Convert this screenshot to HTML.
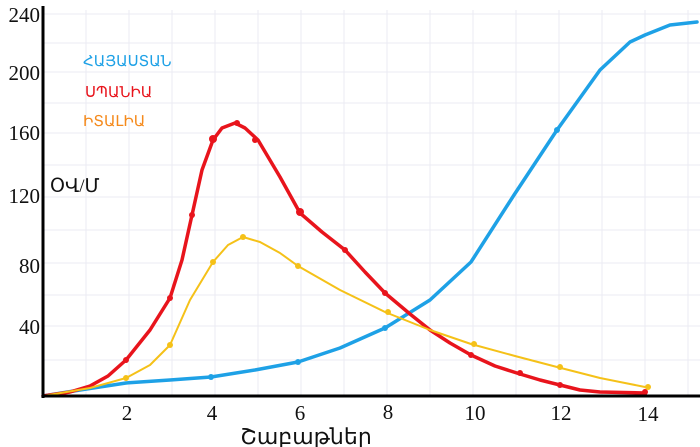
<!DOCTYPE html>
<html><head><meta charset="utf-8"><style>
html,body{margin:0;padding:0;background:#fff;}
svg{display:block;}
text{font-family:"Liberation Serif",serif;}
</style></head><body>
<svg width="700" height="447" viewBox="0 0 700 447" xmlns="http://www.w3.org/2000/svg">
<g stroke="#ebebf3" stroke-width="1">
<line x1="86" y1="10" x2="86" y2="396"/><line x1="129" y1="10" x2="129" y2="396"/><line x1="172" y1="10" x2="172" y2="396"/><line x1="215" y1="10" x2="215" y2="396"/><line x1="258" y1="10" x2="258" y2="396"/><line x1="301" y1="10" x2="301" y2="396"/><line x1="344" y1="10" x2="344" y2="396"/><line x1="387" y1="10" x2="387" y2="396"/><line x1="430" y1="10" x2="430" y2="396"/><line x1="473" y1="10" x2="473" y2="396"/><line x1="516" y1="10" x2="516" y2="396"/><line x1="559" y1="10" x2="559" y2="396"/><line x1="602" y1="10" x2="602" y2="396"/><line x1="645" y1="10" x2="645" y2="396"/><line x1="688" y1="10" x2="688" y2="396"/>
<line x1="43" y1="14" x2="700" y2="14"/><line x1="43" y1="43" x2="700" y2="43"/><line x1="43" y1="72" x2="700" y2="72"/><line x1="43" y1="103" x2="700" y2="103"/><line x1="43" y1="133" x2="700" y2="133"/><line x1="43" y1="165" x2="700" y2="165"/><line x1="43" y1="197" x2="700" y2="197"/><line x1="43" y1="230" x2="700" y2="230"/><line x1="43" y1="263" x2="700" y2="263"/><line x1="43" y1="295" x2="700" y2="295"/><line x1="43" y1="326" x2="700" y2="326"/><line x1="43" y1="360" x2="700" y2="360"/>
</g>
<g fill="none" stroke-linejoin="round" stroke-linecap="round">
<polyline points="43,396 80,390 126,383 170,380 211,377 255,370 298,362 340,348 385,328 430,300 471,262 514,195 557,130 600,70 630,42 645,35 670,25 697,22" stroke="#1ea1e6" stroke-width="3.5"/>
<polyline points="43,396 70,392 90,386 108,376 126,360 150,330 170,298 182,260 192,215 202,170 213,140 222,128 235,123 245,128 258,140 280,177 300,213 322,232 345,250 365,272 385,293 410,314 430,330 450,343 471,355 495,366 520,374 540,380 560,385 580,390 600,392 645,393" stroke="#e8141c" stroke-width="3.5"/>
<polyline points="43,396 90,388 126,378 150,365 170,345 190,300 213,262 228,245 243,237 260,242 280,253 298,266 340,290 385,312 430,330 471,344 515,356 557,367 600,378 645,387" stroke="#f5c118" stroke-width="2"/>
</g>
<g fill="#1ea1e6"><circle cx="211" cy="377" r="3"/><circle cx="298" cy="362" r="3"/><circle cx="385" cy="328" r="3"/><circle cx="557" cy="130" r="3"/></g>
<g fill="#e8141c"><circle cx="126" cy="360" r="3"/><circle cx="170" cy="298" r="3"/><circle cx="192" cy="215" r="3"/><circle cx="213" cy="139" r="4"/><circle cx="237" cy="123" r="3"/><circle cx="255" cy="140" r="3"/><circle cx="300" cy="212" r="4"/><circle cx="345" cy="250" r="3"/><circle cx="385" cy="293" r="3"/><circle cx="471" cy="355" r="3"/><circle cx="520" cy="373" r="3"/><circle cx="560" cy="385" r="3"/><circle cx="645" cy="392" r="3"/></g>
<g fill="#f5c118"><circle cx="126" cy="378" r="3"/><circle cx="170" cy="345" r="3"/><circle cx="213" cy="262" r="3"/><circle cx="243" cy="237" r="3"/><circle cx="298" cy="266" r="3"/><circle cx="388" cy="312" r="3"/><circle cx="474" cy="344" r="3"/><circle cx="560" cy="367" r="3"/><circle cx="648" cy="387" r="3"/></g>
<line x1="43" y1="6" x2="43" y2="398" stroke="#000" stroke-width="3"/>
<line x1="42" y1="396" x2="700" y2="396" stroke="#000" stroke-width="3"/>
<g font-size="21" fill="#111" text-anchor="end">
<text x="40" y="22">240</text><text x="40" y="80">200</text><text x="40" y="140">160</text><text x="40" y="203">120</text><text x="40" y="273">80</text><text x="40" y="334">40</text>
</g>
<g font-size="21" fill="#111" text-anchor="middle">
<text x="127" y="420">2</text><text x="212" y="420">4</text><text x="300" y="420">6</text><text x="388" y="419">8</text><text x="475" y="420">10</text><text x="561" y="420">12</text><text x="648" y="421">14</text>
</g>
<text x="306" y="444" font-size="22" text-anchor="middle" fill="#111" font-family="DejaVu Sans, sans-serif">Շաբաթներ</text>
<text x="50" y="192" font-size="19" fill="#111" font-family="DejaVu Sans, sans-serif">ՕՎ/Մ</text>
<text x="83" y="66" font-size="15" fill="#1ea1e6" font-family="DejaVu Sans, sans-serif">ՀԱՅԱՍՏԱՆ</text>
<text x="85" y="97" font-size="15" fill="#e8141c" font-family="DejaVu Sans, sans-serif">ՍՊԱՆԻԱ</text>
<text x="83" y="126" font-size="15" fill="#f58a1c" font-family="DejaVu Sans, sans-serif">ԻՏԱԼԻԱ</text>
</svg>
</body></html>
